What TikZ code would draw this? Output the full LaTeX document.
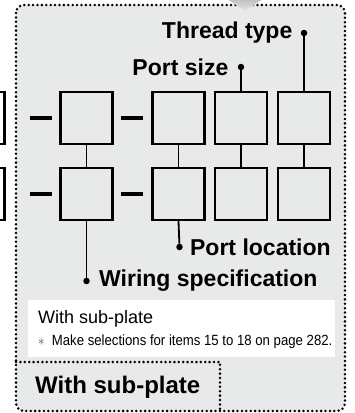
\documentclass[tikz,border=0pt]{standalone}
\usepackage{fontspec}
\setmainfont{Liberation Sans}
\usetikzlibrary{positioning}
\definecolor{panelgray}{RGB}{232,233,233}
\tikzstyle{dotline} = [line width=2.8pt, dash pattern=on 0pt off 4.4pt, line cap=round]

\begin{document}
\begin{tikzpicture}[
        x=1pt, y=-1pt,
        cell/.style={draw=black, line width=2.3pt, minimum width=52pt, minimum height=52pt, inner sep=0pt},
        bar/.style={fill=black, minimum width=22pt, minimum height=3.8pt, inner sep=0pt},
        pin/.style={circle, fill=black, minimum size=6.5pt, inner sep=0pt},
        lbl/.style={font=\fontsize{23}{26}\selectfont\bfseries, inner sep=0pt},
        link/.style={line width=1.8pt},
    ]
        \useasboundingbox (0,0) rectangle (355,413);
        \clip (0,0) rectangle (355,413);

        % panel
        \draw[dotline, fill=panelgray, rounded corners=8pt] (16,5) rectangle (345,411);
        \shade[top color=gray!50, bottom color=gray!20] (227,-1) -- (263,-1) -- (251,7) -- (245,11) -- (239,7) -- cycle;

        % code boxes
        \node[cell] (l1) at (-21.5,118) {};
        \node[cell] (a1) at (86.5,118) {};
        \node[cell] (b1) at (178.5,118) {};
        \node[cell] (c1) at (241,118) {};
        \node[cell] (d1) at (304,118) {};
        \node[cell] (l2) at (-21.5,194) {};
        \node[cell] (a2) at (86.5,194) {};
        \node[cell] (b2) at (178.5,194) {};
        \node[cell] (c2) at (241,194) {};
        \node[cell] (d2) at (304,194) {};

        \node[bar] (h1) at (41,118) {};
        \node[bar] (h2) at (132,118) {};
        \node[bar] (h3) at (41,194) {};
        \node[bar] (h4) at (132,194) {};

        \foreach \c in {a,b,c,d}
            \draw[link] (\c1.south) -- (\c2.north);

        % callouts
        \node[pin] (thread) at (304,33) {};
        \node[lbl, left=8pt of thread] (threadtxt) {Thread type};
        \draw[link] (thread) -- (d1.north);

        \node[pin] (size) at (241,67) {};
        \node[lbl, left=9pt of size] (sizetxt) {Port size};
        \draw[link] (size) -- (c1.north);

        \node[pin] (loc) at (179.5,247) {};
        \node[lbl, right=7pt of loc] (loctxt) {Port location};
        \draw[link] (b2.south) -- (loc);

        \node[pin] (wire) at (86.5,281) {};
        \node[lbl, right=9pt of wire] (wiretxt) {Wiring specification};
        \draw[link] (a2.south) -- (wire);

        % note
        \fill[white] (28,300) rectangle (335,357);
        \node[anchor=base west, inner sep=0pt, font=\fontsize{18}{20}\selectfont] (note) at (38,323) {With sub-plate};
        \node[anchor=base west, inner sep=0pt, font=\fontsize{14.8}{16}\selectfont] (ast) at (38,345) {\scalebox{0.89}[1]{{\color{black!70}$\ast$}\ \ Make selections for items 15 to 18 on page 282.}};

        % tab
        \draw[dotline] (16,362) -- (220,362) -- (220,411);
        \node[anchor=base west, inner sep=0pt, font=\fontsize{24}{26}\selectfont\bfseries] (tab) at (35,393) {With sub-plate};
\end{tikzpicture}
\end{document}
